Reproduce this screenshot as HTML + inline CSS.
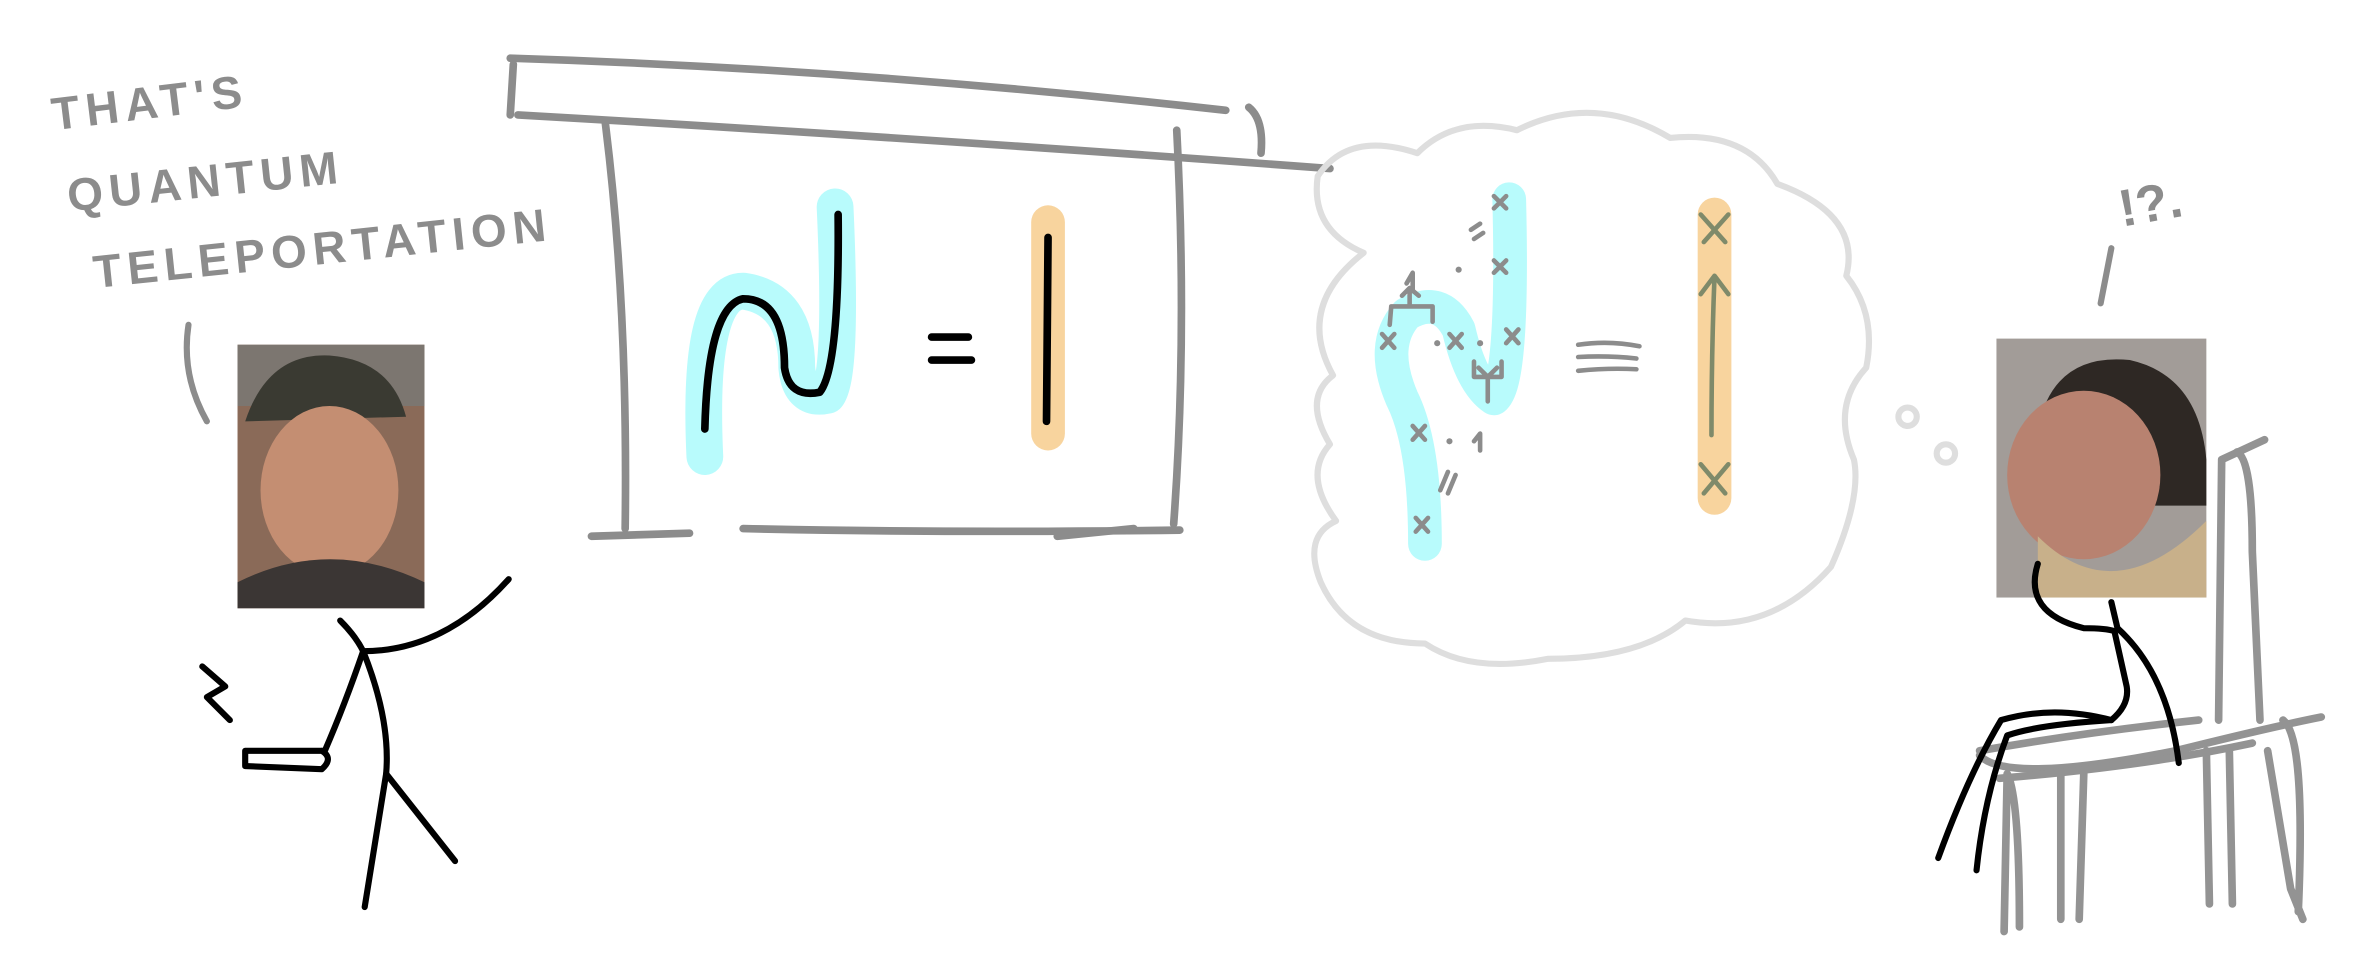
<!DOCTYPE html>
<html><head><meta charset="utf-8"><style>
html,body{margin:0;padding:0;background:#fff;width:2378px;height:972px;overflow:hidden}
svg{display:block}
text{font-family:"Liberation Sans",sans-serif}
</style></head><body>
<svg width="2378" height="972" viewBox="0 0 1552 634.4" xmlns="http://www.w3.org/2000/svg" fill="none" stroke-linecap="round" stroke-linejoin="round">
<g fill="#8c8c8c" stroke="none" font-size="30" font-weight="bold" letter-spacing="4">
<text x="35" y="85" transform="rotate(-7 35 85)">THAT'S</text>
<text x="45" y="138" transform="rotate(-6 45 138)">QUANTUM</text>
<text x="62" y="188" transform="rotate(-6 62 188)">TELEPORTATION</text>
</g>
<path d="M123 212 Q118 245 135 275" stroke="#8c8c8c" stroke-width="4"/>
<g>
<rect x="155" y="225" width="122" height="172" fill="#8a6a58" stroke="none"/>
<rect x="155" y="225" width="122" height="40" fill="#7c7670" stroke="none"/>
<path d="M160 275 Q175 230 215 232 Q255 235 265 272 Z" fill="#3a3a32" stroke="none"/>
<ellipse cx="215" cy="320" rx="45" ry="55" fill="#c48e72" stroke="none"/>
<path d="M155 380 Q215 350 277 380 L277 397 L155 397 Z" fill="#3b3634" stroke="none"/>
</g>
<g stroke="#000" stroke-width="4">
<path d="M222 405 Q232 415 237 425 Q255 470 252 505 L238 592"/>
<path d="M252 505 L297 562"/>
<path d="M237 425 Q290 425 332 378"/>
<path d="M237 425 Q225 460 212 490 L160 490 L160 500 L210 502 Q218 495 210 490"/>
<path d="M132 435 L147 448 L135 455 L150 470"/>
</g>
<g stroke="#8c8c8c" stroke-width="5">
<path d="M333 38 Q560 45 800 72"/>
<path d="M335 42 L333 75"/>
<path d="M338 75 Q600 90 868 110"/>
<path d="M815 70 Q825 78 823 100"/>
<path d="M395 80 Q410 200 408 345"/>
<path d="M768 85 Q775 220 766 342"/>
<path d="M386 350 L450 348"/>
<path d="M485 345 Q620 348 770 346"/>
<path d="M690 350 L740 345"/>
</g>
<g>
<path d="M460 298 Q455 190 485 190 Q520 195 520 240 Q522 262 540 258 Q550 245 545 135" stroke="#b8fbfc" stroke-width="24"/>
<path d="M460 280 Q462 200 485 195 Q512 195 512 240 Q515 260 535 256 Q548 240 547 140" stroke="#000" stroke-width="5"/>
<path d="M608 220 L632 220 M608 235 L634 235" stroke="#000" stroke-width="5"/>
<path d="M684 145 L684 283" stroke="#f8d49e" stroke-width="22"/>
<path d="M684 155 L683 275" stroke="#000" stroke-width="5"/>
</g>
<path stroke="#dedede" stroke-width="4" d="M890 165 Q855 150 860 115 Q880 85 925 100 Q950 75 990 85 Q1040 60 1090 90 Q1140 85 1160 120 Q1215 140 1205 180 Q1225 205 1218 240 Q1195 265 1210 300 Q1215 325 1195 370 Q1155 415 1100 405 Q1070 430 1010 430 Q960 440 930 420 Q880 420 862 380 Q850 350 872 340 Q850 310 868 290 Q850 260 870 245 Q845 200 890 165"/>
<g>
<path d="M930 355 Q930 290 915 260 Q900 225 918 205 Q940 192 952 215 Q960 250 975 260 Q988 250 985 130" stroke="#b8fbfc" stroke-width="22"/>
<g stroke="#8c8c8c" stroke-width="3">
<path d="M902 218l8 9m0-9l-8 9 M946 218l8 9m0-9l-8 9 M983 215l8 9m0-9l-8 9 M975 170l8 8m0-8l-8 8 M975 128l8 8m0-8l-8 8 M922 278l8 9m0-9l-8 9 M924 338l8 9m0-9l-8 9"/>
<path d="M907 212 L908 200 L935 200 L935 210 M920 200 L920 190 M915 193 L920 188 L926 193"/>
<path d="M962 236 L962 246 L980 246 L980 236 M971 246 L971 262 M965 240 L971 246 L977 240"/>
<path d="M918 185 L922 178 L922 190 M960 150 L966 146 M962 156 L968 152 M962 288 L966 283 L966 294 M940 320 L945 308 M945 322 L950 310"/>
<path d="M1030 225 Q1050 222 1070 226 M1030 233 Q1050 232 1068 234 M1030 242 Q1050 240 1068 241"/>
</g>
<g fill="#8c8c8c" stroke="none"><circle cx="938" cy="224" r="2"/><circle cx="966" cy="224" r="2"/><circle cx="952" cy="176" r="2"/><circle cx="946" cy="288" r="2"/></g>
<path d="M1119 140 L1119 325" stroke="#f8d49e" stroke-width="22"/>
<g stroke="#7f8a6a" stroke-width="3">
<path d="M1110 140 L1126 158 M1128 140 L1112 158 M1110 303 L1126 322 M1128 303 L1112 322"/>
<path d="M1117 284 Q1117 230 1119 180 M1110 192 L1119 180 L1128 192"/>
</g>
</g>
<g stroke="#dedede" stroke-width="4">
<circle cx="1245" cy="272" r="6"/><circle cx="1270" cy="296" r="6"/>
</g>
<g>
<text x="1385" y="148" fill="#8c8c8c" stroke="none" font-size="34" font-weight="bold" transform="rotate(-10 1385 148)">!?.</text>
<path d="M1378 162 L1371 198" stroke="#8c8c8c" stroke-width="4"/>
</g>
<g stroke="#939393" stroke-width="5">
<path d="M1448 470 L1450 300 L1478 287"/>
<path d="M1460 295 Q1470 300 1470 360 L1475 470"/>
<path d="M1292 490 Q1360 478 1435 470 M1292 493 Q1310 512 1420 490 Q1480 475 1515 468"/>
<path d="M1310 505 Q1318 520 1318 605 M1310 505 L1308 608 M1345 505 L1345 600 M1360 505 L1357 600"/>
<path d="M1440 490 L1442 590 M1455 490 L1457 590 M1480 490 L1495 580 L1503 600 M1490 470 Q1505 480 1500 595"/>
<path d="M1305 508 Q1400 500 1470 485"/>
</g>
<g>
<rect x="1303" y="221" width="137" height="169" fill="#a29c98" stroke="none"/>
<path d="M1330 280 Q1340 230 1390 235 Q1435 245 1440 300 L1440 330 L1400 330 Z" fill="#2e2824" stroke="none"/>
<ellipse cx="1360" cy="310" rx="50" ry="55" fill="#b88270" stroke="none"/>
<path d="M1330 350 Q1380 400 1440 340 L1440 390 L1330 390 Z" fill="#c8b08a" stroke="none"/>
</g>
<g stroke="#000" stroke-width="4">
<path d="M1330 368 Q1320 400 1360 410 Q1375 410 1380 412 L1388 448 Q1390 460 1378 470"/>
<path d="M1378 393 L1382 410 Q1415 440 1422 498"/>
<path d="M1378 470 Q1340 460 1306 470 Q1285 505 1265 560"/>
<path d="M1378 470 Q1330 473 1310 480 Q1295 520 1290 568"/>
</g>
</svg>
</body></html>
